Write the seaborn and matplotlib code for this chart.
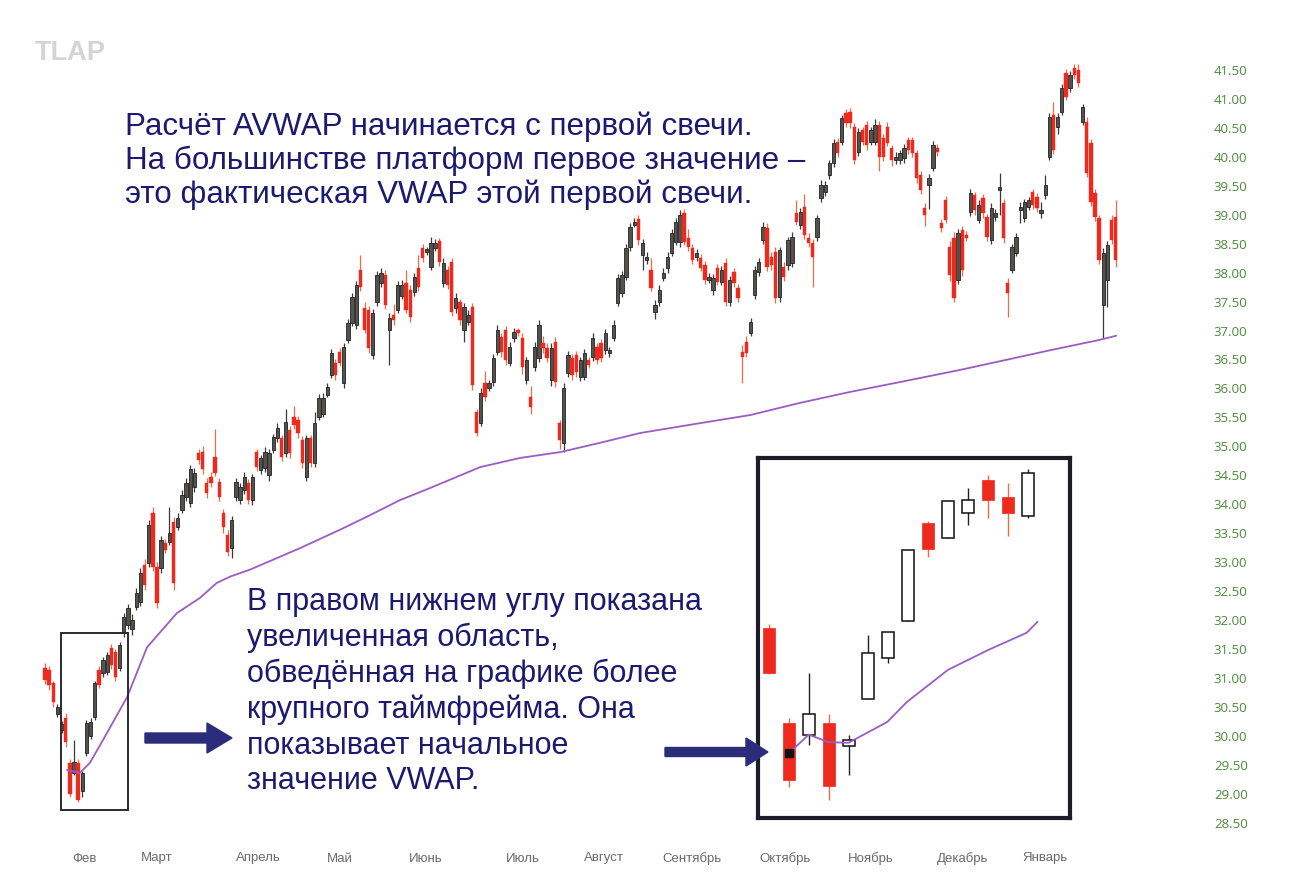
import numpy as np
import matplotlib
matplotlib.use("Agg")
import matplotlib.pyplot as plt
from matplotlib.patches import Rectangle, FancyArrow
import seaborn as sns

# daily candles, Feb -> Jan
opens = [31.17, 31.14, 30.91, 30.38, 30.10, 30.31, 29.53, 29.36, 29.53, 29.05,
         29.70, 30.00, 30.33, 31.14, 31.09, 31.10, 31.52, 31.45, 31.17, 31.78,
         31.92, 31.85, 32.23, 32.31, 32.95, 32.99, 33.85, 32.92, 32.90, 33.33,
         33.35, 33.69, 33.60, 33.90, 34.13, 34.02, 34.30, 34.89, 34.90, 34.37,
         34.47, 34.82, 34.38, 33.85, 33.47, 33.24, 34.13, 34.07, 34.25, 34.37,
         34.07, 34.90, 34.59, 34.63, 34.50, 34.94, 35.14, 35.14, 34.89, 35.28,
         35.51, 35.46, 35.11, 34.47, 35.14, 34.71, 35.51, 35.55, 35.89, 36.23,
         36.44, 36.63, 36.10, 36.84, 37.13, 37.10, 38.05, 37.39, 37.35, 36.58,
         37.49, 37.82, 37.96, 37.01, 37.27, 37.36, 37.60, 37.82, 37.70, 37.67,
         38.08, 38.43, 38.35, 38.10, 38.43, 38.55, 37.82, 38.05, 38.18, 37.39,
         37.49, 37.01, 37.15, 37.41, 35.59, 35.40, 36.09, 36.00, 36.11, 36.63,
         36.89, 37.01, 36.44, 36.87, 37.01, 36.87, 36.15, 35.85, 36.37, 36.53,
         36.79, 36.70, 36.15, 36.80, 35.40, 35.06, 36.27, 36.53, 36.58, 36.20,
         36.20, 36.49, 36.54, 36.72, 36.79, 36.66, 36.62, 36.87, 37.48, 37.65,
         37.93, 38.44, 38.83, 38.93, 38.30, 38.22, 38.05, 37.32, 37.49, 37.91,
         38.08, 38.34, 38.53, 38.53, 39.03, 38.60, 38.43, 38.27, 38.25, 38.13,
         37.87, 37.70, 38.08, 37.84, 38.17, 37.49, 38.01, 37.74, 36.63, 36.80,
         36.96, 37.61, 38.01, 38.56, 38.77, 38.27, 38.36, 37.58, 38.10, 38.13,
         38.17, 39.03, 38.82, 39.13, 38.60, 38.51, 38.62, 39.29, 39.39, 39.69,
         39.89, 40.26, 40.26, 40.76, 40.77, 40.52, 40.08, 40.46, 40.55, 40.26,
         40.26, 40.55, 40.33, 40.52, 40.15, 39.95, 39.95, 39.98, 40.29, 40.29,
         40.07, 39.69, 39.12, 39.51, 39.81, 40.15, 38.86, 39.25, 38.44, 38.60,
         37.87, 38.74, 38.65, 39.05, 39.34, 38.91, 39.29, 38.96, 38.56, 38.96,
         39.43, 39.20, 37.82, 38.05, 38.34, 39.08, 38.94, 39.13, 39.39, 39.31,
         39.03, 39.34, 40.00, 40.72, 40.52, 40.77, 41.45, 41.19, 41.53, 41.50,
         40.60, 40.60, 40.24, 39.38, 38.94, 37.44, 37.87, 38.91, 38.96]
closes = [30.96, 30.88, 30.58, 30.49, 30.20, 29.89, 29.00, 29.55, 28.89, 29.36,
          30.22, 30.24, 30.91, 30.88, 31.31, 31.40, 31.22, 31.02, 31.57, 32.05,
          32.20, 32.00, 32.47, 32.81, 32.60, 33.64, 32.92, 32.30, 33.38, 33.21,
          33.50, 32.64, 33.76, 34.16, 34.37, 34.60, 34.54, 34.77, 34.60, 34.20,
          34.37, 34.54, 34.13, 33.60, 33.18, 33.73, 34.38, 34.30, 34.47, 34.07,
          34.47, 34.64, 34.80, 34.90, 34.89, 35.16, 35.32, 34.82, 35.42, 34.89,
          35.37, 35.23, 34.71, 35.14, 34.71, 35.40, 35.84, 35.84, 36.02, 36.61,
          36.23, 36.44, 36.72, 37.13, 37.58, 37.79, 37.75, 37.01, 36.70, 37.30,
          37.96, 38.00, 37.44, 37.22, 37.18, 37.79, 37.79, 37.36, 37.23, 37.93,
          37.75, 38.25, 38.40, 38.51, 38.51, 38.18, 38.17, 37.79, 37.32, 37.56,
          37.18, 37.41, 37.27, 36.06, 35.23, 35.92, 35.85, 36.09, 36.53, 37.01,
          36.63, 36.49, 36.72, 36.97, 36.96, 36.37, 36.49, 35.68, 36.72, 37.10,
          36.70, 36.53, 36.70, 36.11, 35.11, 36.01, 36.58, 36.23, 36.28, 36.49,
          36.61, 36.41, 36.87, 36.49, 36.53, 36.96, 36.66, 37.10, 37.91, 37.96,
          38.43, 38.79, 38.88, 38.56, 38.51, 38.27, 37.74, 37.44, 37.70, 37.99,
          38.27, 38.68, 38.87, 39.00, 38.53, 38.44, 38.22, 38.34, 38.08, 37.87,
          37.92, 37.91, 37.84, 38.05, 37.49, 37.87, 37.82, 37.56, 36.54, 36.62,
          37.15, 38.05, 38.18, 38.79, 38.10, 38.13, 37.56, 38.39, 37.92, 38.56,
          38.62, 38.88, 39.05, 38.65, 38.51, 38.27, 38.94, 39.51, 39.51, 39.89,
          40.24, 40.07, 40.67, 40.58, 40.58, 39.95, 40.43, 40.26, 40.20, 40.46,
          40.55, 40.00, 40.00, 40.24, 39.95, 40.00, 40.07, 40.15, 40.12, 40.07,
          39.63, 39.43, 39.00, 39.63, 40.20, 40.08, 38.77, 38.91, 37.96, 37.56,
          38.68, 38.05, 38.60, 39.38, 39.08, 39.17, 39.03, 38.62, 39.12, 39.03,
          39.48, 38.60, 37.65, 38.44, 38.62, 39.13, 39.22, 39.25, 39.17, 39.12,
          39.08, 39.51, 40.69, 40.12, 40.69, 41.19, 41.03, 41.41, 41.41, 41.28,
          40.86, 39.72, 39.22, 38.96, 38.22, 38.34, 38.48, 38.56, 38.22]
highs = [31.25, 31.20, 30.95, 30.55, 30.25, 30.40, 29.60, 29.93, 29.60, 29.40,
         30.28, 30.30, 30.95, 31.20, 31.36, 31.45, 31.58, 31.50, 31.62, 32.12,
         32.28, 32.10, 32.55, 32.90, 33.05, 33.72, 33.95, 33.00, 33.45, 33.40,
         33.95, 33.78, 33.85, 34.25, 34.45, 34.68, 34.62, 34.95, 35.00, 34.45,
         34.55, 35.30, 34.45, 33.92, 33.55, 33.80, 34.45, 34.36, 34.55, 34.44,
         34.52, 34.96, 34.85, 34.98, 34.95, 35.22, 35.40, 35.20, 35.65, 35.35,
         35.70, 35.52, 35.18, 35.20, 35.20, 35.60, 35.90, 35.92, 36.10, 36.68,
         36.50, 36.70, 36.78, 37.20, 37.65, 37.85, 38.30, 37.50, 37.42, 37.38,
         38.02, 38.08, 38.05, 37.30, 37.45, 37.85, 37.88, 38.05, 37.78, 38.00,
         38.30, 38.50, 38.45, 38.62, 38.58, 38.60, 38.25, 38.12, 38.25, 37.65,
         37.55, 37.48, 37.35, 37.48, 35.65, 36.00, 36.30, 36.15, 36.60, 37.10,
         36.95, 37.08, 36.80, 37.05, 37.05, 36.95, 36.55, 36.05, 36.80, 37.18,
         36.90, 36.78, 36.78, 36.88, 35.45, 36.10, 36.65, 36.60, 36.65, 36.55,
         36.68, 36.55, 36.95, 36.78, 36.85, 37.02, 36.72, 37.18, 37.98, 38.02,
         38.50, 38.85, 38.95, 39.00, 38.58, 38.35, 38.25, 37.52, 37.78, 38.08,
         38.35, 38.75, 38.95, 39.08, 39.10, 38.75, 38.50, 38.40, 38.32, 38.20,
         38.00, 37.98, 38.15, 38.12, 38.25, 37.95, 38.08, 37.80, 36.75, 36.90,
         37.22, 38.12, 38.25, 38.88, 38.85, 38.35, 38.45, 38.45, 38.18, 38.62,
         38.70, 39.25, 39.12, 39.35, 38.68, 38.58, 39.00, 39.60, 39.58, 39.95,
         40.30, 40.32, 40.72, 40.82, 40.85, 40.58, 40.50, 40.52, 40.62, 40.52,
         40.65, 40.62, 40.40, 40.60, 40.20, 40.08, 40.12, 40.22, 40.35, 40.35,
         40.12, 39.75, 39.20, 39.70, 40.28, 40.22, 38.92, 39.32, 38.55, 38.70,
         38.75, 38.80, 38.72, 39.45, 39.40, 39.25, 39.35, 39.02, 39.20, 39.10,
         39.72, 39.28, 37.90, 38.50, 38.68, 39.22, 39.28, 39.30, 39.45, 39.38,
         39.22, 39.68, 40.75, 40.95, 40.75, 41.25, 41.52, 41.48, 41.60, 41.60,
         40.92, 40.68, 40.30, 39.45, 39.00, 38.42, 38.55, 39.00, 39.25]
lows = [30.90, 30.80, 30.50, 30.33, 30.05, 29.80, 28.95, 29.33, 28.85, 28.95,
        29.65, 29.95, 30.28, 30.82, 31.02, 31.05, 31.15, 30.95, 31.12, 31.70,
        31.85, 31.75, 32.18, 32.25, 32.52, 32.92, 32.85, 32.20, 32.82, 33.15,
        33.30, 32.52, 33.55, 33.85, 34.05, 33.95, 34.22, 34.70, 34.52, 34.10,
        34.30, 34.48, 34.05, 33.50, 33.10, 33.08, 34.05, 34.00, 34.18, 34.00,
        33.98, 34.58, 34.52, 34.55, 34.40, 34.88, 35.08, 34.75, 34.82, 34.80,
        35.30, 35.15, 34.62, 34.40, 34.65, 34.65, 35.45, 35.50, 35.85, 36.18,
        36.15, 36.38, 36.00, 36.78, 37.08, 37.02, 37.68, 36.95, 36.62, 36.50,
        37.42, 37.75, 37.38, 36.40, 37.10, 37.30, 37.55, 37.30, 37.15, 37.60,
        37.68, 38.18, 38.30, 38.05, 38.38, 38.12, 37.75, 37.72, 37.25, 37.30,
        37.10, 36.80, 37.10, 35.98, 35.18, 35.35, 35.78, 35.95, 36.05, 36.58,
        36.55, 36.40, 36.38, 36.80, 36.90, 36.25, 36.08, 35.55, 36.30, 36.45,
        36.62, 36.45, 36.05, 36.02, 34.95, 34.90, 36.20, 36.15, 36.20, 36.12,
        36.15, 36.35, 36.48, 36.42, 36.45, 36.60, 36.55, 36.82, 37.42, 37.58,
        37.88, 38.38, 38.78, 38.48, 38.05, 38.15, 37.68, 37.20, 37.42, 37.85,
        38.00, 38.28, 38.48, 38.45, 38.48, 38.38, 38.15, 38.20, 38.02, 37.80,
        37.82, 37.62, 37.78, 37.78, 37.42, 37.42, 37.75, 37.50, 36.10, 36.55,
        36.90, 37.55, 37.95, 38.50, 38.02, 38.05, 37.48, 37.50, 37.85, 38.05,
        38.10, 38.82, 38.75, 38.58, 38.45, 37.75, 38.55, 39.22, 39.32, 39.62,
        39.82, 40.00, 40.20, 40.52, 40.50, 39.88, 40.02, 40.20, 40.12, 40.20,
        40.20, 39.75, 39.92, 40.18, 39.85, 39.88, 39.88, 39.90, 40.05, 40.00,
        39.55, 39.35, 38.80, 39.10, 39.75, 40.02, 38.70, 38.85, 37.85, 37.50,
        37.80, 37.95, 38.55, 38.98, 39.00, 38.85, 38.95, 38.55, 38.50, 38.90,
        39.00, 38.52, 37.23, 38.00, 38.28, 38.85, 38.88, 39.08, 39.10, 39.05,
        38.95, 39.28, 39.95, 40.05, 40.40, 40.72, 40.98, 41.12, 41.35, 41.20,
        40.55, 39.65, 39.15, 38.90, 38.15, 36.87, 37.40, 38.50, 38.10]

# anchored VWAP, traced points (candle index, price)
vwap_idx = [5.3, 8.4, 10.8, 14.0, 19.8, 24.6, 31.8, 37.3, 41.4, 44.6, 49.4,
            61.4, 71.1, 78.3, 85.5, 92.8, 104.8, 114.5, 124.1, 133.7, 143.4,
            157.8, 169.9, 181.9, 194.0, 206.0, 220.5, 230.1, 242.2, 254.2,
            258.1]
vwap_val = [29.41, 29.36, 29.53, 29.93, 30.67, 31.53, 32.12, 32.38, 32.64,
            32.75, 32.87, 33.24, 33.56, 33.81, 34.07, 34.28, 34.64, 34.80,
            34.90, 35.06, 35.23, 35.40, 35.54, 35.75, 35.94, 36.11, 36.32,
            36.47, 36.66, 36.84, 36.91]

months = ["Фев", "Март", "Апрель", "Май", "Июнь", "Июль", "Август",
          "Сентябрь", "Октябрь", "Ноябрь", "Декабрь", "Январь"]
month_pos = [9.4, 27.0, 51.3, 71.1, 91.8, 115.2, 134.7, 155.9, 178.3,
             199.0, 221.2, 241.0]
price_ticks = np.arange(28.5, 41.51, 0.5)

# zoomed (higher timeframe) candles shown in the inset
z_open = [31.86, 30.22, 30.02, 30.22, 29.83, 30.64, 31.35, 31.98, 33.68,
          33.42, 33.85, 34.42, 34.13, 33.80]
z_close = [31.09, 29.24, 30.38, 29.13, 29.93, 31.43, 31.79, 33.21, 33.23,
           34.06, 34.07, 34.07, 33.85, 34.54]
z_high = [31.93, 30.31, 31.09, 30.38, 30.02, 31.74, 31.79, 33.21, 33.71,
          34.06, 34.28, 34.51, 34.37, 34.61]
z_low = [31.07, 29.12, 29.84, 28.89, 29.32, 30.64, 31.26, 31.98, 33.09,
         33.42, 33.64, 33.76, 33.45, 33.76]
z_vwap_idx = [1, 2, 3, 4, 5.95, 6.95, 9, 11, 12.95, 13.5]
z_vwap_val = [29.70, 30.02, 29.89, 29.88, 30.24, 30.59, 31.14, 31.48, 31.78, 31.97]

# box marking the zoomed area on the daily chart
box_x0, box_x1 = 3.9, 20.0
box_lo, box_hi = 28.72, 31.78

RED = "#ee2a1f"
RED_WICK = "#f26a45"
DARK = "#55514d"
NAVY = "#1b1a6f"
PURPLE = "#9b5cc4"

sns.set_theme(style="white")
plt.rcParams['font.family'] = ['Liberation Sans', 'DejaVu Sans']

fig = plt.figure(figsize=(12.9, 8.89), dpi=100)
fig.patch.set_facecolor("white")
ax = fig.add_axes([30 / 1290, 49 / 889, 1170 / 1290, 800 / 889])

o = np.array(opens)
c = np.array(closes)
h = np.array(highs)
l = np.array(lows)
idx = np.arange(len(o))
up = c >= o

# wicks
ax.vlines(idx[up], l[up], h[up], color="#3a3a3a", lw=0.9, zorder=2)
ax.vlines(idx[~up], l[~up], h[~up], color=RED_WICK, lw=0.9, zorder=2)
# bodies
body_lo = np.minimum(o, c)
body_h = np.maximum(np.abs(c - o), 0.05)
ax.bar(idx[up], body_h[up], bottom=body_lo[up], width=0.8,
       color=DARK, edgecolor="#222222", linewidth=0.6, zorder=3)
ax.bar(idx[~up], body_h[~up], bottom=body_lo[~up], width=0.8,
       color=RED, edgecolor=RED, linewidth=0.3, zorder=3)

sns.lineplot(x=vwap_idx, y=vwap_val, ax=ax, color=PURPLE, lw=1.3,
             sort=False, zorder=4)

ax.add_patch(Rectangle((box_x0, box_lo), box_x1 - box_x0, box_hi - box_lo,
                       fill=False, edgecolor="#2a2a35", lw=1.4, zorder=5))

ax.set_xlim(-3.6, 278.3)
ax.set_ylim(28.201, 42.018)
for s in ax.spines.values():
    s.set_visible(False)
ax.yaxis.tick_right()
ax.set_yticks(price_ticks)
ax.set_yticklabels([f"{v:.2f}" for v in price_ticks])
ax.tick_params(axis="y", length=0, pad=10, labelsize=9.5, labelcolor="#4b8a3a")
for t in ax.get_yticklabels():
    t.set_family(["Open Sans", "DejaVu Sans"])
ax.set_xticks(month_pos)
ax.set_xticklabels(months)
ax.tick_params(axis="x", length=0, pad=9, labelsize=9.5, labelcolor="#6a6a6a")
for t in ax.get_xticklabels():
    t.set_family(["Liberation Sans Narrow", "Liberation Sans"])
ax.grid(False)

# inset: enlarged higher-timeframe view
ins = fig.add_axes([758 / 1290, 71 / 889, 312 / 1290, 360 / 889])
ins.set_facecolor("white")
zo = np.array(z_open)
zc = np.array(z_close)
zh = np.array(z_high)
zl = np.array(z_low)
zi = np.arange(len(zo))
zup = zc >= zo
ins.vlines(zi[zup], zl[zup], zh[zup], color="#222222", lw=1.0, zorder=2)
ins.vlines(zi[~zup], zl[~zup], zh[~zup], color=RED_WICK, lw=1.0, zorder=2)
ins.bar(zi[zup], np.abs(zc - zo)[zup], bottom=np.minimum(zo, zc)[zup],
        width=0.6, color="white", edgecolor="#111111", lw=1.1, zorder=3)
ins.bar(zi[~zup], np.abs(zc - zo)[~zup], bottom=np.minimum(zo, zc)[~zup],
        width=0.6, color=RED, edgecolor=RED, lw=0.5, zorder=3)
sns.lineplot(x=z_vwap_idx, y=z_vwap_val, ax=ins, color=PURPLE, lw=1.3,
             sort=False, zorder=4)
ins.plot([z_vwap_idx[0]], [z_vwap_val[0]], marker="s", ms=6, color="#111111",
         zorder=5)
ins.set_xlim(-0.55, 15.13)
ins.set_ylim(28.58, 34.80)
ins.set_xticks([])
ins.set_yticks([])
for s in ins.spines.values():
    s.set_visible(True)
    s.set_color("#1c1c2a")
    s.set_linewidth(3.0)

# arrows
fig.patches.append(FancyArrow(145 / 1290, 1 - 738 / 889, 87 / 1290, 0,
                              width=10 / 889, head_width=30 / 889,
                              head_length=25 / 1290, length_includes_head=True,
                              color="#2b2d7c", transform=fig.transFigure,
                              figure=fig))
fig.patches.append(FancyArrow(665 / 1290, 1 - 752 / 889, 103 / 1290, 0,
                              width=9 / 889, head_width=28 / 889,
                              head_length=22 / 1290, length_includes_head=True,
                              color="#2b2d7c", transform=fig.transFigure,
                              figure=fig))

# texts
fig.text(35 / 1290, 1 - 53 / 889, "TLAP", fontsize=19.5, fontweight="bold",
         color="#d4d4d4", va="center", ha="left")
fig.text(125 / 1290, 1 - 111 / 889,
         "Расчёт AVWAP начинается с первой свечи.\n"
         "На большинстве платформ первое значение –\n"
         "это фактическая VWAP этой первой свечи.",
         fontsize=22.6, color=NAVY, va="top", ha="left", linespacing=1.16)
fig.text(247 / 1290, 1 - 587 / 889,
         "В правом нижнем углу показана\n"
         "увеличенная область,\n"
         "обведённая на графике более\n"
         "крупного таймфрейма. Она\n"
         "показывает начальное\n"
         "значение VWAP.",
         fontsize=22, color=NAVY, va="top", ha="left", linespacing=1.24)

fig.savefig("out.png", dpi=100, facecolor="white")
